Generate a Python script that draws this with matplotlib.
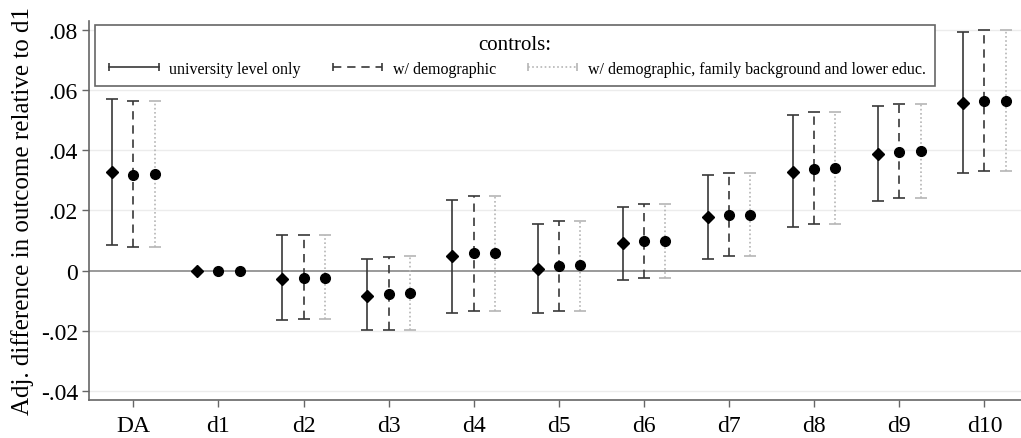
import numpy as np
import matplotlib
matplotlib.use("Agg")
import matplotlib.pyplot as plt
from matplotlib.lines import Line2D

plt.rcParams['font.family'] = ['Liberation Serif', 'DejaVu Serif']

cats = ['DA', 'd1', 'd2', 'd3', 'd4', 'd5', 'd6', 'd7', 'd8', 'd9', 'd10']

# university level only
est_univ = [0.0329, 0.0, -0.0027, -0.0084, 0.0047, 0.0007, 0.0091, 0.0178, 0.0329, 0.0389, 0.0557]
lo_univ = [0.0084, np.nan, -0.0164, -0.0198, -0.0141, -0.0141, -0.0030, 0.0040, 0.0144, 0.0232, 0.0326]
hi_univ = [0.0570, np.nan, 0.0117, 0.0040, 0.0235, 0.0154, 0.0211, 0.0319, 0.0517, 0.0547, 0.0792]

# w/ demographic
est_demo = [0.0319, 0.0, -0.0023, -0.0077, 0.0057, 0.0017, 0.0097, 0.0185, 0.0339, 0.0396, 0.0564]
lo_demo = [0.0077, np.nan, -0.0160, -0.0198, -0.0134, -0.0134, -0.0023, 0.0047, 0.0154, 0.0242, 0.0332]
hi_demo = [0.0564, np.nan, 0.0117, 0.0044, 0.0248, 0.0164, 0.0221, 0.0326, 0.0527, 0.0554, 0.0799]

# w/ demographic, family background and lower educ.
est_full = [0.0320, 0.0, -0.0023, -0.0075, 0.0057, 0.0018, 0.0098, 0.0185, 0.0340, 0.0397, 0.0564]
lo_full = [0.0077, np.nan, -0.0160, -0.0198, -0.0134, -0.0134, -0.0023, 0.0047, 0.0154, 0.0242, 0.0332]
hi_full = [0.0564, np.nan, 0.0117, 0.0047, 0.0248, 0.0164, 0.0221, 0.0326, 0.0527, 0.0554, 0.0799]

labels = ['university level only', 'w/ demographic',
          'w/ demographic, family background and lower educ.']

fig = plt.figure(figsize=(10.21, 4.39), dpi=100)
ax = fig.add_axes([0.0872, 0.0866, 0.9128, 0.8634])

x = np.arange(len(cats))
series = [
    (est_univ, lo_univ, hi_univ, -0.25, '-', '#383838', 'D', 6),
    (est_demo, lo_demo, hi_demo, 0.0, (0, (5, 3.5)), '#383838', 'o', 7),
    (est_full, lo_full, hi_full, 0.25, (0, (1, 1.5)), '#b5b5b5', 'o', 7),
]

ax.axhline(0, color='#9a9a9a', lw=1.4, zorder=1)
for yv in [-0.04, -0.02, 0.02, 0.04, 0.06, 0.08]:
    ax.axhline(yv, color='#ececec', lw=1.0, zorder=0)

for est, lo, hi, off, ls, col, mk, ms in series:
    est = np.array(est)
    lo = np.array(lo)
    hi = np.array(hi)
    ok = ~np.isnan(lo)
    xs = x + off
    eb = ax.errorbar(xs[ok], est[ok], yerr=[est[ok] - lo[ok], hi[ok] - est[ok]],
                     fmt='none', ecolor=col, elinewidth=1.2, capsize=4,
                     capthick=1.2, zorder=2)
    eb[2][0].set_linestyle(ls)
    ax.plot(xs, est, ls='none', marker=mk, ms=ms, color='black', zorder=3)

ax.set_xlim(-0.52, 10.43)
ax.set_ylim(-0.043, 0.083)
ax.set_xticks(x)
ax.set_xticklabels(cats, fontsize=17)
yt = [-0.04, -0.02, 0, 0.02, 0.04, 0.06, 0.08]
ax.set_yticks(yt)
ax.set_yticklabels(['-.04', '-.02', '0', '.02', '.04', '.06', '.08'], fontsize=17)
ax.tick_params(axis='both', direction='out', length=5, color='#666666', width=1)
ax.tick_params(axis='x', pad=6)
ax.tick_params(axis='y', pad=3)
ax.set_ylabel('Adj. difference in outcome relative to d1', fontsize=18, labelpad=5)
for s in ['top', 'right']:
    ax.spines[s].set_visible(False)
for s in ['left', 'bottom']:
    ax.spines[s].set_color('#666666')
    ax.spines[s].set_linewidth(1.2)

handles = [
    Line2D([], [], color='#383838', ls='-', lw=1.2, marker='|', ms=6, mew=1.2),
    Line2D([], [], color='#383838', ls=(0, (5, 3.5)), lw=1.2, marker='|', ms=6, mew=1.2),
    Line2D([], [], color='#b5b5b5', ls=(0, (1, 1.5)), lw=1.2, marker='|', ms=6, mew=1.2),
]
leg = ax.legend(handles, labels, title='controls:', ncol=3, numpoints=2,
                loc='upper left',
                bbox_to_anchor=(95 / 1021, 1 - 83 / 439, 840 / 1021, 57 / 439),
                bbox_transform=fig.transFigure, mode='expand',
                fontsize=11.5, title_fontsize=15, handlelength=3.7, handletextpad=0.35,
                columnspacing=1.2, fancybox=False, edgecolor='#666666',
                framealpha=1, borderpad=0.6, borderaxespad=0, labelspacing=0.45)
leg.get_frame().set_linewidth(1.2)

fig.savefig('out.png', dpi=100)
